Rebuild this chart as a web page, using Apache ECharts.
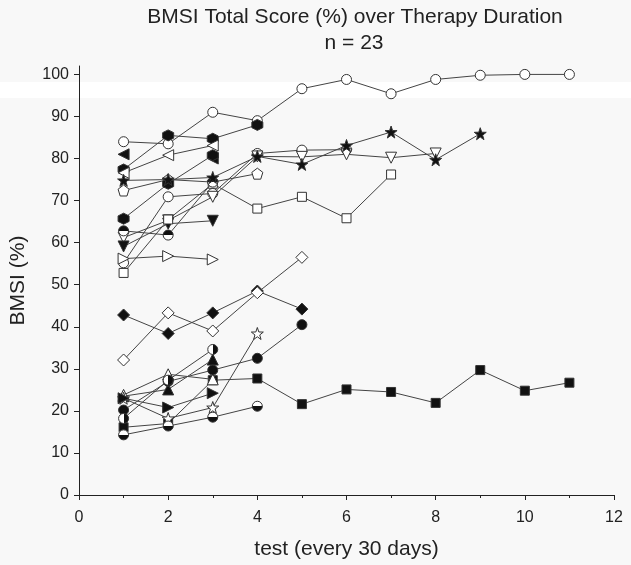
<!DOCTYPE html>
<html>
<head>
<meta charset="utf-8">
<script src="https://cdn.jsdelivr.net/npm/echarts@6/dist/echarts.min.js"></script>
<style>
html,body{margin:0;padding:0;background:#f8f8f8;}
#chart{width:631px;height:565px;}
</style>
</head>
<body>
<div id="chart"></div>
<script>
// ---- data ----
const tests = [1, 2, 3, 4, 5, 6, 7, 8, 9, 10, 11];
const xTicks = [0, 2, 4, 6, 8, 10, 12];
const yTicks = [0, 10, 20, 30, 40, 50, 60, 70, 80, 90, 100];

const openCircleLong   = [84, 83.5, 91, 89, 96.6, 98.8, 95.4, 98.8, 99.8, 100, 100];
const filledHexA       = [77.4, 85.5, 84.7, 88];
const openLeftTri      = [76.6, 80.8, 83.1];
const filledLeftTri    = [81, null, 80];
const filledStar       = [74.8, 75, 75.5, 80.5, 78.6, 83.1, 86.3, 79.7, 85.9];
const openPentagon     = [72.4, 75, 74.4, 76.4];
const filledHexB       = [65.7, 74, 80.8];
const openCircleB      = [55.2, 70.9, 71.7, 81.2, 82, 82.1];
const openDownTri      = [61.2, 65.3, 70.9, 80.5, 80.4, 81, 80.2, 81.2];
const filledDownTri    = [59.1, 64.5, 65.2];
const openSquare       = [52.8, 65.5, 74, 68.1, 70.9, 65.8, 76.2];
const halfTopCircle    = [62.8, 61.8, 74.4];
const openRightTri     = [56.2, 56.8, 56.0];
const filledDiamond    = [42.8, 38.4, 43.3, 48.5, 44.2];
const openDiamond      = [32.1, 43.3, 39, 48.1, 56.5];
const openTriUp        = [23.8, 28.7, 27.5];
const openStar         = [23, 18.2, 20.8, 38.4];
const filledCircle     = [20.2, 27, 29.7, 32.5, 40.5];
const halfRightCircle  = [18.2, 27.3, 34.6];
const filledSquare     = [16.1, 17, 27.3, 27.7, 21.6, 25.1, 24.5, 21.9, 29.7, 24.8, 26.7];
const halfBottomCircle = [14.3, 16.4, 18.5, 21.1];
const filledTriUp      = [23.5, 25.1, 32.2];
const filledRightTri   = [23, 20.8, 24.2];

// ---- styles ----
const SYM = {
  hex: 'path://M10,0 L18.66,5 L18.66,15 L10,20 L1.34,15 L1.34,5 Z',
  pent: 'path://M10,0 L19.51,6.91 L15.88,18.09 L4.12,18.09 L0.49,6.91 Z',
  star: 'path://M10,0 L12.35,6.76 L19.51,6.91 L13.8,11.24 L15.88,18.09 L10,14 L4.12,18.09 L6.2,11.24 L0.49,6.91 L7.65,6.76 Z',
  down: 'path://M0,0 L20,0 L10,17.3 Z',
  left: 'path://M0,10 L17.3,0 L17.3,20 Z',
  right: 'path://M0,0 L17.3,10 L0,20 Z'
};
const BLACK = '#111';
const WHITE = '#fff';
function half(dir) {
  const g = {type: 'linear', x: 0, y: 0, x2: 0, y2: 0, colorStops: [
    {offset: 0, color: BLACK}, {offset: 0.5, color: BLACK},
    {offset: 0.5, color: WHITE}, {offset: 1, color: WHITE}]};
  if (dir === 'top') { g.y2 = 1; }
  if (dir === 'bottom') { g.y = 1; g.y2 = 0; }
  if (dir === 'right') { g.x = 1; g.x2 = 0; }
  if (dir === 'left') { g.x2 = 1; }
  return g;
}
const defs = [
  [openCircleLong, 'circle', WHITE, 10],
  [filledHexA, SYM.hex, BLACK, 11],
  [openLeftTri, SYM.left, WHITE, 11],
  [filledLeftTri, SYM.left, BLACK, 11],
  [openPentagon, SYM.pent, WHITE, 11],
  [filledHexB, SYM.hex, BLACK, 11],
  [openCircleB, 'circle', WHITE, 10],
  [openDownTri, SYM.down, WHITE, 11],
  [filledDownTri, SYM.down, BLACK, 11],
  [openSquare, 'rect', WHITE, 9],
  [halfTopCircle, 'circle', half('top'), 10],
  [openRightTri, SYM.right, WHITE, 11],
  [filledStar, SYM.star, BLACK, 12],
  [filledDiamond, 'diamond', BLACK, 12],
  [openDiamond, 'diamond', WHITE, 12],
  [filledSquare, 'rect', BLACK, 9],
  [filledTriUp, 'triangle', BLACK, 11],
  [openTriUp, 'triangle', WHITE, 11],
  [openStar, SYM.star, WHITE, 12],
  [filledCircle, 'circle', BLACK, 10],
  [halfRightCircle, 'circle', half('right'), 10],
  [halfBottomCircle, 'circle', half('bottom'), 10],
  [filledRightTri, SYM.right, BLACK, 11]
];

const series = defs.map(function (d, i) {
  return {
    type: 'line',
    name: 'P' + (i + 1),
    data: d[0].map(function (v, k) { return [tests[k], v]; }),
    symbol: d[1],
    symbolSize: d[3],
    showAllSymbol: true,
    connectNulls: false,
    animation: false,
    lineStyle: {color: '#444', width: 1},
    itemStyle: {color: d[2], borderColor: '#333', borderWidth: 1},
    emphasis: {disabled: true},
    z: 2 + i * 0.01
  };
});

const FONT = 'Liberation Sans, Arial, sans-serif';
const chart = echarts.init(document.getElementById('chart'), null, {renderer: 'canvas'});
chart.setOption({
  backgroundColor: '#f8f8f8',
  animation: false,
  textStyle: {fontFamily: FONT},
  graphic: [
    {type: 'rect', z: -10, silent: true, shape: {x: 0, y: 82, width: 631, height: 16}, style: {fill: '#ffffff'}},
    {type: 'text', x: 355, y: 17, silent: true, style: {text: 'BMSI Total Score (%) over Therapy Duration', align: 'center', verticalAlign: 'middle', fontSize: 21, fontFamily: FONT, fill: '#222'}},
    {type: 'text', x: 354, y: 43, silent: true, style: {text: 'n = 23', align: 'center', verticalAlign: 'middle', fontSize: 21, fontFamily: FONT, fill: '#222'}}
  ],
  grid: {left: 78, right: 17, top: 66, bottom: 70, containLabel: false},
  xAxis: {
    type: 'value', min: 0, max: 12, interval: 2,
    axisLine: {show: true, lineStyle: {color: '#222', width: 1}},
    axisTick: {show: true, length: 5, inside: false, lineStyle: {color: '#222'}},
    minorTick: {show: true, splitNumber: 2, length: 3, lineStyle: {color: '#222'}},
    splitLine: {show: false},
    axisLabel: {fontSize: 16, color: '#222', margin: 15},
    name: 'test (every 30 days)', nameLocation: 'middle', nameGap: 44,
    nameTextStyle: {fontSize: 21, color: '#222'}
  },
  yAxis: {
    type: 'value', min: 0, max: 102, interval: 10,
    axisLine: {show: true, lineStyle: {color: '#222', width: 1}},
    axisTick: {show: true, length: 5, inside: false, customValues: yTicks, lineStyle: {color: '#222'}},
    splitLine: {show: false},
    axisLabel: {fontSize: 16, color: '#222', margin: 10, customValues: yTicks},
    name: 'BMSI (%)', nameLocation: 'middle', nameGap: 50, nameRotate: 90,
    nameTextStyle: {fontSize: 21, color: '#222'}
  },
  series: series
});
</script>
</body>
</html>
